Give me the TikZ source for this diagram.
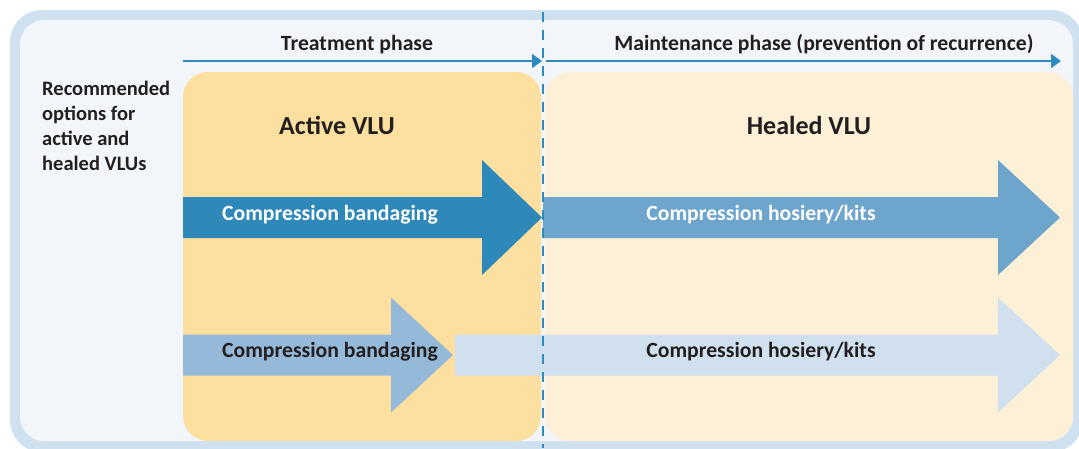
\documentclass[tikz,border=0pt]{standalone}
\usepackage{fontspec}
\setmainfont{Carlito}
\usetikzlibrary{arrows.meta, positioning}
\definecolor{frameBlue}{HTML}{CFE0EF}
\definecolor{paneBg}{HTML}{F2F6FA}
\definecolor{activeFill}{HTML}{FDDF9F}
\definecolor{healedFill}{HTML}{FCF0D7}
\definecolor{timeBlue}{HTML}{2D8BC0}
\definecolor{arrowDark}{HTML}{2E89BA}
\definecolor{arrowMid}{HTML}{6DA5CC}
\definecolor{arrowSoft}{HTML}{95B9D8}
\definecolor{arrowPale}{HTML}{D0E0EF}
\definecolor{inkDark}{HTML}{231F20}
\tikzstyle{phase} = [font=\fontsize{21.7}{25}\selectfont\bfseries, text=inkDark, inner sep=0pt, anchor=base]
\tikzstyle{sidenote} = [font=\fontsize{20.5}{25}\selectfont\bfseries, text=inkDark, inner sep=0pt, anchor=north west, align=left]
\tikzstyle{heading} = [font=\fontsize{26}{30}\selectfont\bfseries, text=inkDark, inner sep=0pt, anchor=base]
\tikzstyle{armlabel} = [font=\fontsize{21.7}{25}\selectfont\bfseries, inner sep=0pt, anchor=base]
\tikzstyle{timeline} = [timeBlue, line width=2pt, -{Triangle[length=10pt,width=14pt]}]
\tikzstyle{pane} = [rounded corners=25pt]
% block arrow: fill, x start, x head base, x tip, y centre
\newcommand{\blockarrow}[5]{%
  \fill[#1] (#2,#5-20.5) -- (#3,#5-20.5) -- (#3,#5-57.5) -- (#4,#5)
    -- (#3,#5+57.5) -- (#3,#5+20.5) -- (#2,#5+20.5) -- cycle;}

\begin{document}
\begin{tikzpicture}[x=1pt, y=-1pt]

\useasboundingbox (0,0) rectangle (1079,448);
\clip (0,0) rectangle (1079,448);

% Frame
\fill[frameBlue, rounded corners=32pt] (10,10) rectangle (1083,452);
\fill[paneBg, rounded corners=24pt] (20,20) rectangle (1073,441);

% Phase panes
\fill[activeFill, pane] (183,72) rectangle (541,441);
\fill[healedFill, pane] (545,72) rectangle (1073,441);

% Block arrows
\blockarrow{arrowDark}{183}{482}{542}{217.5}
\blockarrow{arrowMid}{543}{998}{1060}{217.5}
\blockarrow{arrowSoft}{183}{391}{453}{355}
\blockarrow{arrowPale}{455}{998}{1060}{355}

% Divider
\coordinate (divTop) at (543,12);
\coordinate (divBot) at (543,448);
\draw[timeBlue, line width=2.4pt, dash pattern=on 10pt off 8pt] (divTop) -- (divBot);

% Timeline
\coordinate (tStart) at (183,61);
\coordinate (tSplit) at (542,61);
\coordinate (mStart) at (546,61);
\coordinate (mEnd) at (1061,61);
\draw[timeline] (tStart) -- (tSplit);
\draw[timeline] (mStart) -- (mEnd);

% Labels
\node (treat) [phase] at (357,50) {Treatment phase};
\node (maint) [phase] at (824,50) {Maintenance phase (prevention of recurrence)};
\node (options) [sidenote] at (42,81) {Recommended\\options for\\active and\\healed VLUs};
\node (active) [heading] at (337,134) {Active VLU};
\node (healed) [heading] at (809,134) {Healed VLU};

\node (bandA) [armlabel, text=white] at (330,220) {Compression bandaging};
\node (hoseA) [armlabel, text=white] at (761,220) {Compression hosiery/kits};
\node (bandB) [armlabel, text=inkDark] at (330,357) {Compression bandaging};
\node (hoseB) [armlabel, text=inkDark] at (761,357) {Compression hosiery/kits};

\end{tikzpicture}
\end{document}
